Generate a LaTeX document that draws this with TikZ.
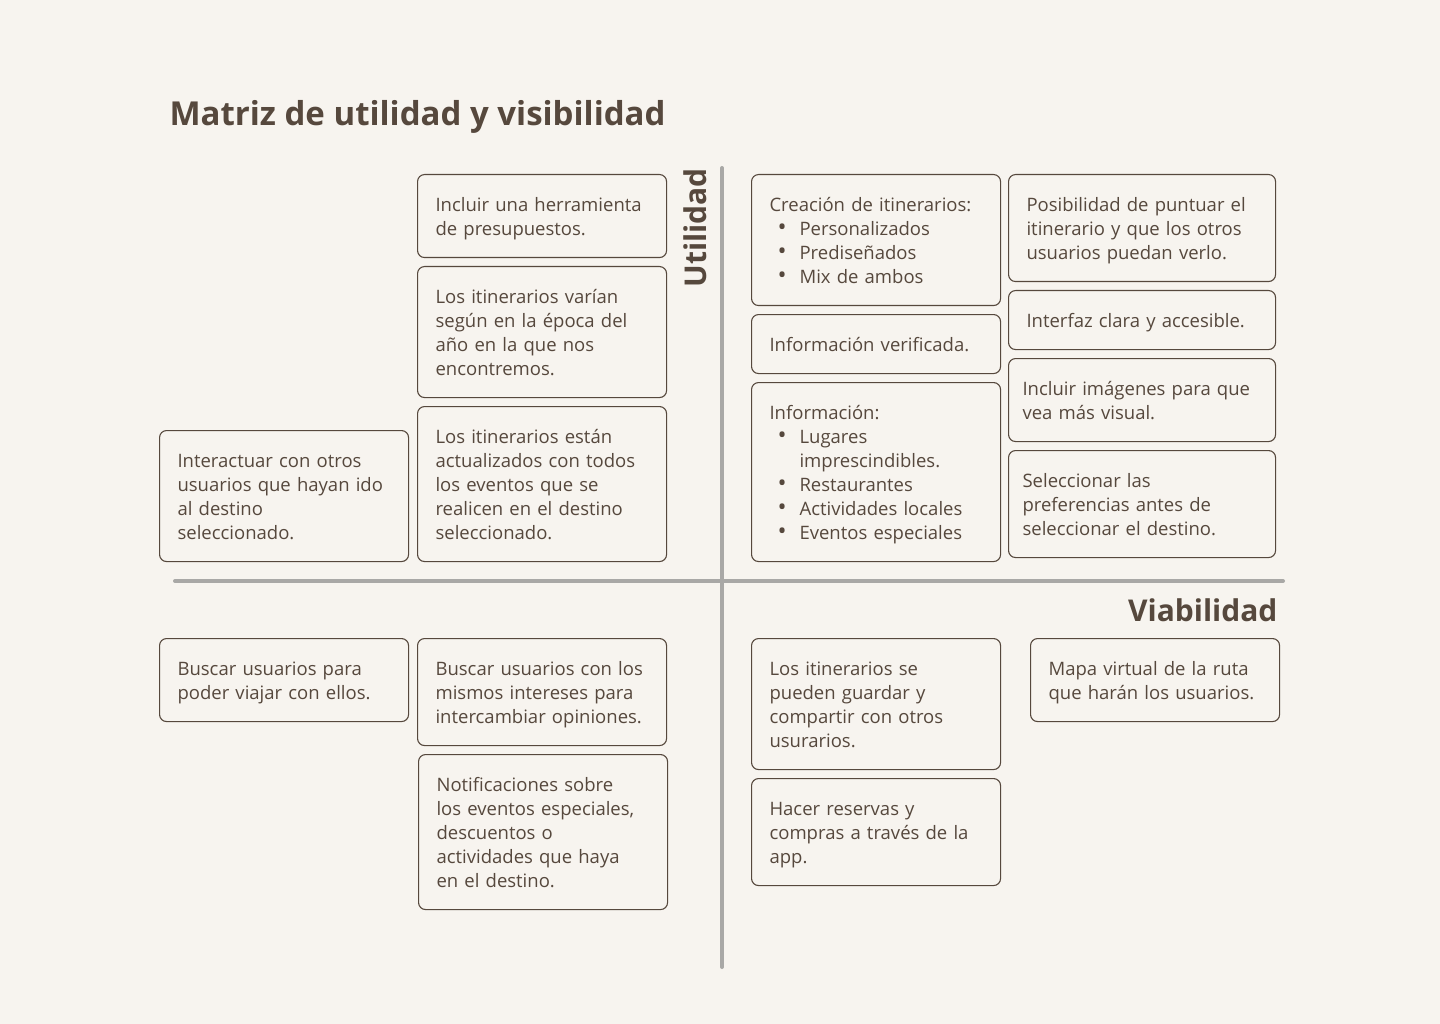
\documentclass[tikz,border=0pt]{standalone}
\usepackage{fontspec}
\setmainfont{Open Sans}
\definecolor{paper}{HTML}{F7F4EF}
\definecolor{ink}{HTML}{56483D}
\definecolor{axisgray}{HTML}{A9A8A6}
\newcommand{\itm}[1]{\hspace*{30pt}\llap{\scalebox{1.3}{\textbullet}\hspace{13pt}}#1}
\newcommand{\cont}[1]{\hspace*{30pt}#1}
\begin{document}
\begin{tikzpicture}[x=1pt,y=-1pt,
  card/.style={draw=ink,line width=1.1pt,rounded corners=7pt,fill=paper,text=ink,anchor=north west,
    inner xsep=18pt,inner ysep=0pt,text width=213pt,align=left,font=\fontsize{18.5}{24}\selectfont,
    execute at begin node={\rule{0pt}{19.8pt}},execute at end node={\rule[-4.2pt]{0pt}{4.2pt}}},
  wide/.style={text width=231pt},
  heading/.style={text=ink,font=\fontsize{30}{34}\selectfont\bfseries},
  axis/.style={draw=axisgray,line width=4pt,line cap=round}]
  \useasboundingbox[fill=paper] (0,0) rectangle (1440,1024);
  \node[text=ink,anchor=west,font=\fontsize{33}{38}\selectfont\bfseries] (title) at (166,117) {Matriz de utilidad y visibilidad};
  \coordinate (vtop) at (722,168);
  \coordinate (vbot) at (722,967);
  \coordinate (hleft) at (175,581);
  \coordinate (hright) at (1283,581);
  \draw[axis] (vtop) -- (vbot);
  \draw[axis] (hleft) -- (hright);
  \node[heading,rotate=90] (utilidad) at (695,228) {Utilidad};
  \node[heading,anchor=east] (viabilidad) at (1281,610) {Viabilidad};
  % arriba a la izquierda
  \node[card,minimum height=83pt] (presupuestos) at (417,174) {Incluir una herramienta\\de presupuestos.};
  \node[card,minimum height=131pt] (epoca) at (417,266) {Los itinerarios varían\\según en la época del\\año en la que nos\\encontremos.};
  \node[card,minimum height=155pt] (eventos) at (417,406) {Los itinerarios están\\actualizados con todos\\los eventos que se\\realicen en el destino\\seleccionado.};
  \node[card,minimum height=131pt] (interactuar) at (159,430) {Interactuar con otros\\usuarios que hayan ido\\al destino\\seleccionado.};
  % arriba a la derecha
  \node[card,minimum height=131pt] (creacion) at (751,174) {Creación de itinerarios:\\\itm{Personalizados}\\\itm{Prediseñados}\\\itm{Mix de ambos}};
  \node[card,minimum height=59pt] (verificada) at (751,314) {Información verificada.};
  \node[card,minimum height=179pt] (informacion) at (751,382) {Información:\\\itm{Lugares}\\\cont{imprescindibles.}\\\itm{Restaurantes}\\\itm{Actividades locales}\\\itm{Eventos especiales}};
  \node[card,wide,minimum height=107pt] (puntuar) at (1008,174) {Posibilidad de puntuar el\\itinerario y que los otros\\usuarios puedan verlo.};
  \node[card,wide,minimum height=59pt] (interfaz) at (1008,290) {Interfaz clara y accesible.};
  \node[card,wide,inner xsep=14pt,text width=239pt,minimum height=83pt] (imagenes) at (1008,358) {Incluir imágenes para que\\vea más visual.};
  \node[card,wide,inner xsep=14pt,text width=239pt,minimum height=107pt] (preferencias) at (1008,450) {Seleccionar las\\preferencias antes de\\seleccionar el destino.};
  % abajo a la izquierda
  \node[card,minimum height=83pt] (viajar) at (159,638) {Buscar usuarios para\\poder viajar con ellos.};
  \node[card,minimum height=107pt] (intereses) at (417,638) {Buscar usuarios con los\\mismos intereses para\\intercambiar opiniones.};
  \node[card,minimum height=155pt] (notificaciones) at (418,754) {Notificaciones sobre\\los eventos especiales,\\descuentos o\\actividades que haya\\en el destino.};
  % abajo a la derecha
  \node[card,minimum height=131pt] (guardar) at (751,638) {Los itinerarios se\\pueden guardar y\\compartir con otros\\usurarios.};
  \node[card,minimum height=107pt] (reservas) at (751,778) {Hacer reservas y\\compras a través de la\\app.};
  \node[card,minimum height=83pt] (mapa) at (1030,638) {Mapa virtual de la ruta\\que harán los usuarios.};
\end{tikzpicture}
\end{document}
